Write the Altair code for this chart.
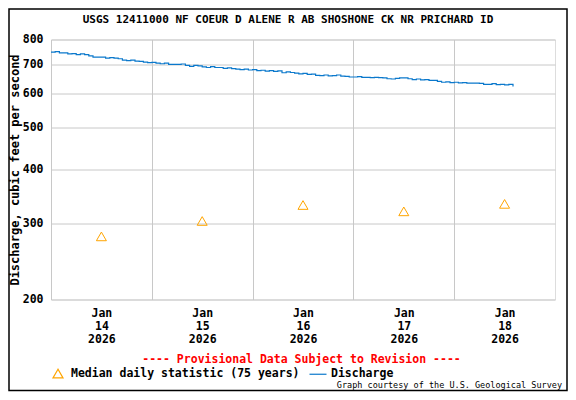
import altair as alt
import pandas as pd

# ---------------- data ----------------
title_text = "USGS 12411000 NF COEUR D ALENE R AB SHOSHONE CK NR PRICHARD ID"
y_title = "Discharge, cubic feet per second"
note_text = "---- Provisional Data Subject to Revision ----"
credit_text = "Graph courtesy of the U.S. Geological Survey"
series_names = ["Median daily statistic (75 years)", "Discharge"]

# hourly discharge readings starting 2026-01-14 00:00 UTC (cfs)
discharge_values = [
    748, 750, 745, 745, 741, 742, 738, 741, 738, 733, 728, 728,
    728, 724, 726, 724, 722, 717, 715, 717, 713, 712, 709, 707,
    708, 705, 703, 705, 701, 701, 701, 702, 697, 693, 697, 695,
    691, 689, 692, 689, 689, 686, 688, 685, 683, 681, 683, 680,
    681, 678, 679, 676, 678, 675, 677, 670, 673, 671, 669, 666,
    668, 664, 665, 661, 660, 662, 659, 660, 662, 658, 657, 655,
    655, 656, 654, 654, 653, 654, 653, 652, 649, 648, 650, 652,
    652, 649, 646, 648, 645, 646, 643, 643, 640, 637, 638, 636,
    637, 635, 636, 634, 634, 634, 633, 630, 630, 632, 629, 630,
    628, 630, 623,
]
discharge_times = [
    f"2026-01-{14 + h // 24:02d}T{h % 24:02d}:00:00Z" for h in range(len(discharge_values))
]

median_times = [
    "2026-01-14T12:00:00Z", "2026-01-15T12:00:00Z", "2026-01-16T12:00:00Z",
    "2026-01-17T12:00:00Z", "2026-01-18T12:00:00Z",
]
median_values = [280, 304, 331, 320, 333]

y_ticks = [200, 300, 400, 500, 600, 700, 800]
x_tick_days = [14, 15, 16, 17, 18]
x_domain_days = [14, 19]

# ---------------- styling ----------------
FONT = "DejaVu Sans Mono"
ORANGE = "#FFA500"
BLUE = "#0A78CC"
GRID = "#c8c8c8"


def dt(day, hour=0):
    return alt.DateTime(year=2026, month=1, date=day, hours=hour, utc=True)


df_q = pd.DataFrame({"time": discharge_times, "value": discharge_values,
                     "series": series_names[1]})
df_m = pd.DataFrame({"time": median_times, "value": median_values,
                     "series": series_names[0]})

x_enc = alt.X(
    "time:T",
    scale=alt.Scale(type="utc", domain=[dt(d) for d in x_domain_days]),
    axis=alt.Axis(
        values=[dt(d) for d in x_tick_days],
        labelExpr="[utcFormat(datum.value, '%b'), utcFormat(datum.value, '%d'), utcFormat(datum.value, '%Y')]",
        labelOffset=50.4,
        labelFlush=False,
        labelOverlap=False,
        labelBound=False,
        labelAngle=0,
        labelAlign="center",
        labelBaseline="top",
        labelPadding=8,
        labelLineHeight=13,
        labelFont=FONT,
        labelFontSize=11.5,
        labelFontWeight="bold",
        labelColor="black",
        ticks=False,
        domain=False,
        grid=True,
        gridColor=GRID,
        gridWidth=1,
        title=None,
    ),
)

y_enc = alt.Y(
    "value:Q",
    scale=alt.Scale(type="log", domain=[200, 800], nice=False),
    axis=alt.Axis(
        values=y_ticks,
        format="d",
        ticks=False,
        domain=False,
        grid=True,
        gridColor=GRID,
        gridWidth=1,
        labelPadding=8,
        labelFont=FONT,
        labelFontSize=11.5,
        labelFontWeight="bold",
        labelColor="black",
        title=y_title,
        titleFont=FONT,
        titleFontSize=12,
        titleFontWeight="bold",
        titleColor="black",
        titleX=-33,
        titleBaseline="alphabetic",
    ),
)

legend = alt.Legend(
    title=None,
    orient="none",
    direction="horizontal",
    legendX=1,
    legendY=328,
    padding=0,
    labelFont=FONT,
    labelFontSize=11.5,
    labelFontWeight="bold",
    labelColor="black",
    labelOffset=7,
    labelLimit=400,
    columnPadding=7,
    symbolSize=100,
    symbolStrokeWidth=1.2,
)

color_enc = alt.Color("series:N",
                      scale=alt.Scale(domain=series_names, range=[ORANGE, BLUE]),
                      legend=legend)
shape_enc = alt.Shape("series:N",
                      scale=alt.Scale(domain=series_names,
                                      range=["triangle-up", "M-1.7,0H1.7"]),
                      legend=legend)

line = alt.Chart(df_q).mark_line(strokeWidth=1.2, interpolate="step-after").encode(
    x=x_enc, y=y_enc, color=color_enc
)

points = alt.Chart(df_m).mark_point(filled=False, size=100, strokeWidth=1, opacity=1).encode(
    x="time:T", y="value:Q", color=color_enc, shape=shape_enc
)

note = alt.Chart(alt.Data(values=[{"t": note_text}])).mark_text(
    font=FONT, fontSize=11.5, fontWeight="bold", color="#FF0000",
    align="center", baseline="middle"
).encode(text="t:N", x=alt.value(250.5), y=alt.value(320.5))

credit = alt.Chart(alt.Data(values=[{"t": credit_text}])).mark_text(
    font=FONT, fontSize=8.5, color="black", align="right", baseline="middle"
).encode(text="t:N", x=alt.value(511), y=alt.value(345.5))

frame = alt.Chart(alt.Data(values=[{"f": 1}])).mark_rect(
    filled=False, stroke="black", strokeWidth=1.5
).encode(x=alt.value(-42), x2=alt.value(516), y=alt.value(-30.5), y2=alt.value(351))

# the frame's top edge is the top of the view bounds; a negative
# offset brings the title back down to sit just above the plot area
chart = alt.layer(line, points, note, credit, frame).properties(
    width=504,
    height=260,
    padding={"left": 43, "top": 31.5, "right": 13, "bottom": 92},
    autosize=alt.AutoSizeParams(type="none"),
    title=alt.TitleParams(
        title_text, font=FONT, fontSize=11, fontWeight="bold", color="black",
        anchor="middle", frame="group", dx=-15, offset=-25.25, baseline="alphabetic"
    ),
).configure_view(stroke="black", strokeWidth=1).configure(background="white")

chart.save("out.html", embed_options={"renderer": "svg", "actions": False})
